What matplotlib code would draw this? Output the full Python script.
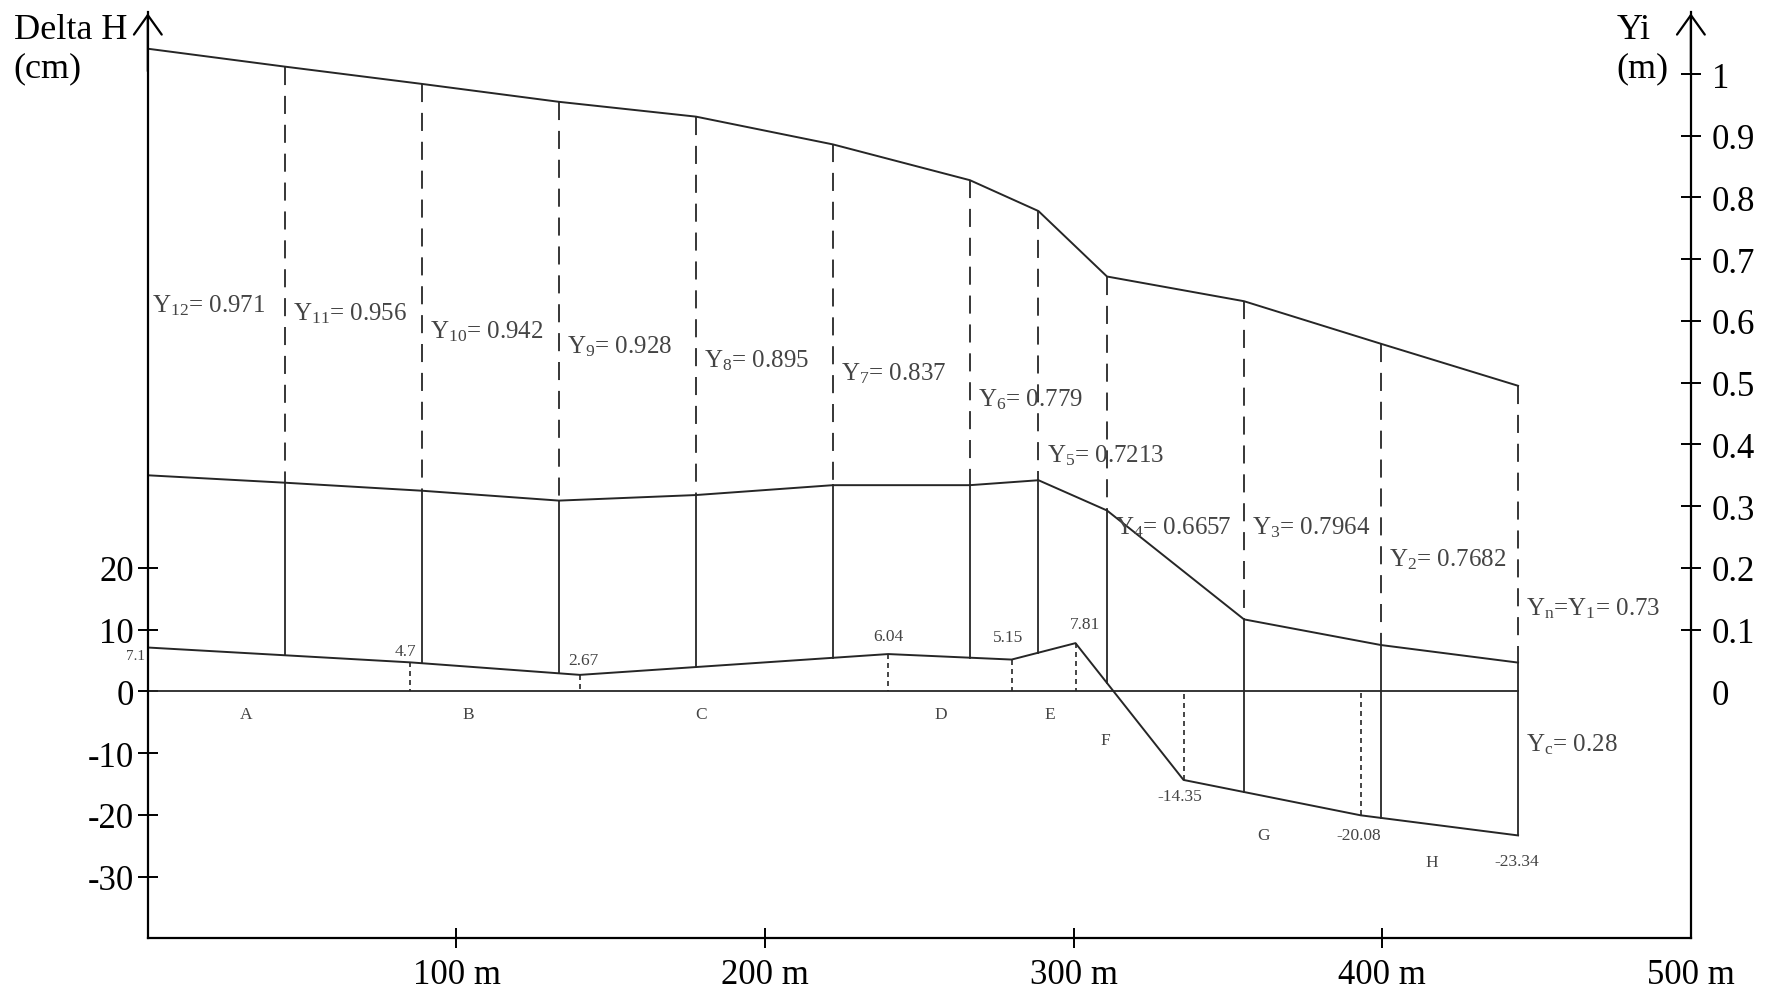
import matplotlib
matplotlib.use('Agg')
import matplotlib.pyplot as plt
import numpy as np

plt.rcParams['font.family'] = ['Liberation Serif', 'DejaVu Serif']
plt.rcParams['mathtext.fontset'] = 'custom'
plt.rcParams['mathtext.rm'] = 'Liberation Serif'
plt.rcParams['mathtext.it'] = 'Liberation Serif'

# stations along the channel (m)
stations = [0, 44.4, 88.8, 133.2, 177.6, 222.0, 266.4, 288.6, 310.8, 355.2, 399.6, 444.0]
# upper profile and middle profile at each station (cm)
top_line = [104.1, 101.2, 98.4, 95.5, 93.1, 88.6, 82.8, 77.8, 67.2, 63.2, 56.3, 49.5]
mid_line = [35.0, 33.8, 32.5, 30.9, 31.8, 33.4, 33.4, 34.2, 29.3, 11.66, 7.5, 4.66]

# delta H profile (cm)
bed_x = [0, 84.9, 140.0, 239.9, 279.9, 300.6, 335.6, 393.0, 444.0]
bed_dh = [7.1, 4.7, 2.67, 6.04, 5.15, 7.81, -14.35, -20.08, -23.34]

# depth labels Yi (m)
y_index = ['12', '11', '10', '9', '8', '7', '6', '5', '4', '3', '2', '1']
y_values = [0.971, 0.956, 0.942, 0.928, 0.895, 0.837, 0.779, 0.7213, 0.6657, 0.7964, 0.7682, 0.73]
yc_value = 0.28

sections = ['A', 'B', 'C', 'D', 'E', 'F', 'G', 'H']

x_ticks = [100, 200, 300, 400, 500]
left_ticks = [-30, -20, -10, 0, 10, 20]
right_ticks = [0, 0.1, 0.2, 0.3, 0.4, 0.5, 0.6, 0.7, 0.8, 0.9, 1]

# layout of the annotations
label_base = [61.6, 60.3, 57.3, 54.9, 52.6, 50.6, 46.3, 37.3, 25.6, 25.6, 20.4, 12.5]
bed_lab_pos = [(-1.0, 5.8), (83.5, 6.6), (141.0, 5.1), (240.1, 8.9), (278.7, 8.8),
               (303.7, 10.9), (334.5, -17.0), (392.4, -23.3), (443.6, -27.5)]
sec_pos = [(31.8, -3.7), (103.8, -3.7), (179.2, -3.7), (257.0, -3.7), (292.2, -3.7),
           (310.2, -7.8), (361.5, -23.3), (416.1, -27.7)]

LC = '#262626'
TC = '#444444'

fig = plt.figure(figsize=(17.83, 9.95), dpi=100)
ax = fig.add_axes([0.08291, 0.056, 0.86543, 0.93063])
ax.set_xlim(0, 500)
ax.set_ylim(-40, 110)

bed_at_st = np.interp(stations, bed_x, bed_dh)

ax.plot(stations, top_line, color=LC, lw=1.4)
ax.plot(stations, mid_line, color=LC, lw=1.4)
ax.plot(bed_x, bed_dh, color=LC, lw=1.4)
ax.plot([0, stations[-1]], [0, 0], color=LC, lw=1.3)

for i in range(1, len(stations)):
    ax.plot([stations[i], stations[i]], [top_line[i], mid_line[i]], color=LC, lw=1.3,
            linestyle=(0, (10, 6)))
    ax.plot([stations[i], stations[i]], [mid_line[i], bed_at_st[i]], color=LC, lw=1.3)

for i in range(1, len(bed_x) - 1):
    ax.plot([bed_x[i], bed_x[i]], [bed_dh[i], 0], color=LC, lw=1.2,
            linestyle=(0, (3, 2.4)))

# Yi labels
for i in range(len(stations)):
    if y_index[i] == '1':
        txt = 'Y$_{n}$=Y$_{1}$= ' + str(y_values[i])
    else:
        txt = 'Y$_{' + y_index[i] + '}$= ' + str(y_values[i])
    dx = 1.5 if i == 0 else 2.6
    ax.text(stations[i] + dx, label_base[i], txt, fontsize=18, color=TC,
            ha='left', va='baseline')
ax.text(stations[-1] + 2.6, -9.6, 'Y$_{c}$= ' + str(yc_value), fontsize=18, color=TC,
        ha='left', va='baseline')

# delta H values
for i in range(len(bed_x)):
    ha = 'right' if i == 0 else 'center'
    fs = 11 if i == 0 else 12.5
    ax.text(bed_lab_pos[i][0], bed_lab_pos[i][1], str(bed_dh[i]), fontsize=fs,
            color=TC, ha=ha, va='center')

for s, p in zip(sections, sec_pos):
    ax.text(p[0], p[1], s, fontsize=12.5, color=TC, ha='center', va='center')

# axes
for side in ['top', 'right']:
    ax.spines[side].set_visible(False)
ax.spines['left'].set_linewidth(1.6)
ax.spines['bottom'].set_linewidth(1.6)

ax.set_yticks(left_ticks)
ax.set_yticklabels([str(t) for t in left_ticks])
ax.tick_params(axis='y', direction='inout', length=14, width=1.4, labelsize=25, pad=3)
ax.set_xticks(x_ticks)
ax.set_xticklabels([f'{t} m' for t in x_ticks])
ax.tick_params(axis='x', direction='inout', length=14, width=1.4, labelsize=25, pad=7)
for t, v in zip(ax.yaxis.get_major_ticks(), left_ticks):
    if v == 0:
        t.tick1line.set_visible(False)
for t, v in zip(ax.xaxis.get_major_ticks(), x_ticks):
    if v == 500:
        t.tick1line.set_visible(False)

ax2 = ax.twinx()
ax2.set_ylim(ax.get_ylim())
for side in ['top', 'left', 'bottom']:
    ax2.spines[side].set_visible(False)
ax2.spines['right'].set_linewidth(1.6)
ax2.set_yticks([v * 100 for v in right_ticks])
ax2.set_yticklabels([f'{v:g}' for v in right_ticks])
ax2.tick_params(axis='y', direction='inout', length=14, width=1.4, labelsize=25, pad=8)
for t, v in zip(ax2.yaxis.get_major_ticks(), right_ticks):
    if v == 0:
        t.tick2line.set_visible(False)

# arrow heads on the vertical axes
for xa in [0, 500]:
    ax.annotate('', xy=(xa, 110.3), xytext=(xa, 100),
                arrowprops=dict(arrowstyle='->,head_length=0.7,head_width=0.5',
                                lw=1.6, color='black', mutation_scale=20),
                annotation_clip=False)

ax.text(-43.5, 105.9, 'Delta H', fontsize=26, ha='left', va='baseline')
ax.text(-43.5, 101.0, '(cm)', fontsize=26, ha='left', va='center')
ax.text(476, 105.9, 'Yi', fontsize=26, ha='left', va='baseline')
ax.text(476, 101.0, '(m)', fontsize=26, ha='left', va='center')

fig.savefig('out.png', dpi=100)
